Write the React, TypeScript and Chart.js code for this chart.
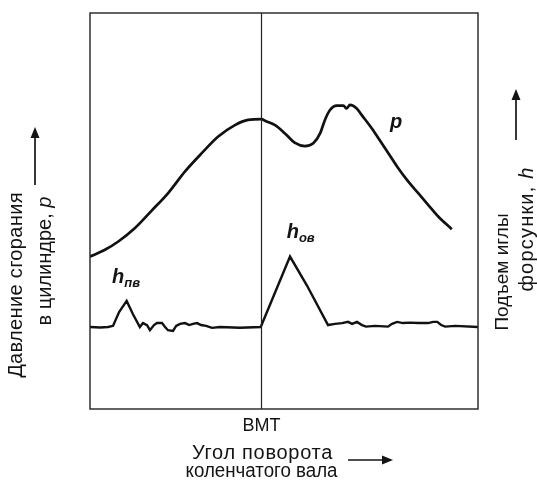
import React, { useEffect, useRef } from 'react';
import { Chart, registerables } from 'chart.js';

Chart.register(...registerables);

// Crank angle (arbitrary degrees, BMT = 0) and cylinder pressure p (relative units)
const pAngle = [-88, -80.3, -73.4, -64.8, -56.2, -47.6, -39.0, -30.4, -21.9, -13.3, -6.5, 0.5, 2.2, 7.4, 12.5, 17.7, 22.8, 27.1, 30.6, 33.1, 35.7, 39.2, 42.6, 44.3, 46.0, 49.5, 52.1, 57.2, 62.4, 65.8, 70.9, 76.1, 81.2, 86.4, 91.5, 98.5];
const pValue = [38.5, 40.2, 42.3, 45.7, 50.1, 54.6, 60.0, 64.6, 68.8, 71.7, 73.0, 73.2, 72.8, 71.7, 69.6, 67.2, 66.4, 67.1, 69.6, 73.0, 75.5, 76.6, 76.6, 75.9, 76.8, 75.9, 74.2, 70.9, 67.1, 64.6, 60.8, 57.4, 54.5, 51.5, 48.6, 45.4];

// Needle lift h (relative units)
const hAngle = [-88.0, -82.8, -78.7, -76.1, -73.0, -69.1, -65.9, -62.3, -60.7, -58.6, -57.1, -55.0, -53.5, -50.9, -49.3, -47.8, -45.2, -43.6, -41.6, -39.0, -36.9, -34.9, -32.8, -30.8, -28.2, -25.1, -21.0, -10.7, 0, 15.1, 23.7, 34.7, 38.3, 41.9, 45.0, 47.1, 49.6, 52.2, 54.3, 58.9, 65.6, 67.7, 70.3, 73.3, 76.9, 81.1, 86.3, 88.9, 91.0, 93.0, 95.1, 100.3, 112.0];
const hValue = [20.7, 20.6, 20.7, 21.0, 24.5, 27.3, 24.0, 20.7, 21.7, 21.2, 19.9, 21.2, 21.7, 21.7, 20.7, 19.9, 19.7, 21.0, 21.5, 21.7, 21.2, 21.5, 21.7, 21.2, 21.0, 20.5, 20.7, 20.5, 20.7, 38.5, 31.3, 21.2, 21.5, 21.7, 22.0, 21.5, 22.0, 21.2, 20.8, 21.0, 20.8, 21.5, 22.0, 21.7, 21.8, 21.7, 21.7, 22.0, 22.0, 21.2, 20.8, 21.0, 20.7];

const xTickLabel = 'BMT';
const xTitle = ['Угол поворота', 'коленчатого вала'];
const yLeftTitle = ['Давление сгорания', 'в цилиндре, ', 'p'];
const yRightTitle = ['Подъем иглы', 'форсунки, ', 'h'];

const FONT = '"Liberation Sans", Arial, Helvetica, sans-serif';
const INK = '#141414';

const decor = {
  id: 'decor',
  afterDatasetsDraw(chart: any) {
    const { ctx, chartArea: a, scales } = chart;
    const xs = scales.x;
    const ys = scales.y;
    ctx.save();
    // frame
    ctx.strokeStyle = '#222';
    ctx.lineWidth = 1.4;
    ctx.strokeRect(a.left, a.top, a.right - a.left, a.bottom - a.top);
    // BMT line
    const bx = Math.round(xs.getPixelForValue(0)) + 0.5;
    ctx.lineWidth = 1.2;
    ctx.beginPath();
    ctx.moveTo(bx, a.top);
    ctx.lineTo(bx, a.bottom);
    ctx.stroke();

    ctx.fillStyle = INK;
    ctx.strokeStyle = INK;
    const setLS = (v: number) => { try { (ctx as any).letterSpacing = `${v}px`; } catch (e) { /* ignore */ } };
    // BMT label
    ctx.font = `18px ${FONT}`;
    ctx.textAlign = 'center';
    ctx.textBaseline = 'alphabetic';
    ctx.fillText(xTickLabel, bx, 431);
    // x title
    ctx.font = `20px ${FONT}`;
    setLS(0.7);
    ctx.fillText(xTitle[0], bx + 1, 459);
    setLS(0);
    ctx.fillText(xTitle[1], bx, 477, 152);
    // arrows
    const arrow = (x1: number, y1: number, x2: number, y2: number) => {
      const ang = Math.atan2(y2 - y1, x2 - x1);
      const hl = 11, hw = 4.5;
      ctx.lineWidth = 1.7;
      ctx.beginPath();
      ctx.moveTo(x1, y1);
      ctx.lineTo(x2 - Math.cos(ang) * hl * 0.8, y2 - Math.sin(ang) * hl * 0.8);
      ctx.stroke();
      ctx.beginPath();
      ctx.moveTo(x2, y2);
      ctx.lineTo(x2 - Math.cos(ang) * hl - Math.sin(ang) * hw, y2 - Math.sin(ang) * hl + Math.cos(ang) * hw);
      ctx.lineTo(x2 - Math.cos(ang) * hl + Math.sin(ang) * hw, y2 - Math.sin(ang) * hl - Math.cos(ang) * hw);
      ctx.closePath();
      ctx.fill();
    };
    arrow(348, 460, 393, 460);
    arrow(35, 185, 35, 127);
    arrow(516, 140, 516, 89);

    // rotated titles
    const vText = (cx: number, cy: number, parts: { t: string; f: string }[], ls: number) => {
      ctx.save();
      ctx.translate(cx, cy);
      ctx.rotate(-Math.PI / 2);
      ctx.textAlign = 'left';
      ctx.textBaseline = 'middle';
      setLS(ls);
      let total = 0;
      const ws = parts.map((p) => { ctx.font = p.f; const w = ctx.measureText(p.t).width; total += w; return w; });
      let x = -total / 2;
      parts.forEach((p, i) => { ctx.font = p.f; ctx.fillText(p.t, x, 0); x += ws[i]; });
      setLS(0);
      ctx.restore();
    };
    const nf = `20px ${FONT}`;
    const itf = `italic 20px ${FONT}`;
    vText(16, 285, [{ t: yLeftTitle[0], f: nf }], 0.35);
    vText(45, 261, [{ t: yLeftTitle[1], f: nf }, { t: yLeftTitle[2], f: itf }], 0);
    vText(503, 272, [{ t: yRightTitle[0], f: `19px ${FONT}` }], 0);
    vText(527, 229, [{ t: yRightTitle[1], f: nf }, { t: yRightTitle[2], f: itf }], 1.2);

    // curve labels
    ctx.textAlign = 'left';
    ctx.textBaseline = 'alphabetic';
    const lab = (vx: number, vy: number, main: string, sub: string) => {
      const px = xs.getPixelForValue(vx);
      const py = ys.getPixelForValue(vy);
      ctx.font = `italic bold 20px ${FONT}`;
      ctx.fillText(main, px, py);
      if (sub) {
        const w = ctx.measureText(main).width;
        ctx.font = `italic bold 13px ${FONT}`;
        ctx.fillText(sub, px + w, py + 4);
      }
    };
    lab(66.6, 71.0, 'p', '');
    lab(-76.6, 31.8, 'h', 'пв');
    lab(13.4, 43.2, 'h', 'ов');
    ctx.restore();
  },
};

export default function App() {
  const ref = useRef<HTMLCanvasElement>(null);
  useEffect(() => {
    const canvas = ref.current;
    if (!canvas) return;
    const chart = new Chart(canvas, {
      type: 'line',
      data: {
        datasets: [
          {
            label: 'p',
            data: pAngle.map((x, i) => ({ x, y: pValue[i] })),
            borderColor: '#111',
            borderWidth: 2.7,
            pointRadius: 0,
            tension: 0.4,
            cubicInterpolationMode: 'monotone',
            fill: false,
          },
          {
            label: 'h',
            data: hAngle.map((x, i) => ({ x, y: hValue[i] })),
            borderColor: '#111',
            borderWidth: 2.4,
            pointRadius: 0,
            tension: 0,
            fill: false,
          },
        ],
      },
      options: {
        responsive: false,
        animation: false,
        devicePixelRatio: 1,
        layout: { padding: { left: 90, top: 13, right: 59, bottom: 72 } },
        scales: {
          x: { type: 'linear', min: -88, max: 112, display: false },
          y: { type: 'linear', min: 0, max: 100, display: false },
        },
        plugins: { legend: { display: false }, tooltip: { enabled: false } },
      },
      plugins: [decor],
    } as any);
    return () => chart.destroy();
  }, []);
  return (
    <div style={{ position: 'fixed', left: 0, top: 0, width: 537, height: 481, background: '#fff' }}>
      <canvas ref={ref} width={537} height={481} style={{ display: 'block' }} />
    </div>
  );
}
